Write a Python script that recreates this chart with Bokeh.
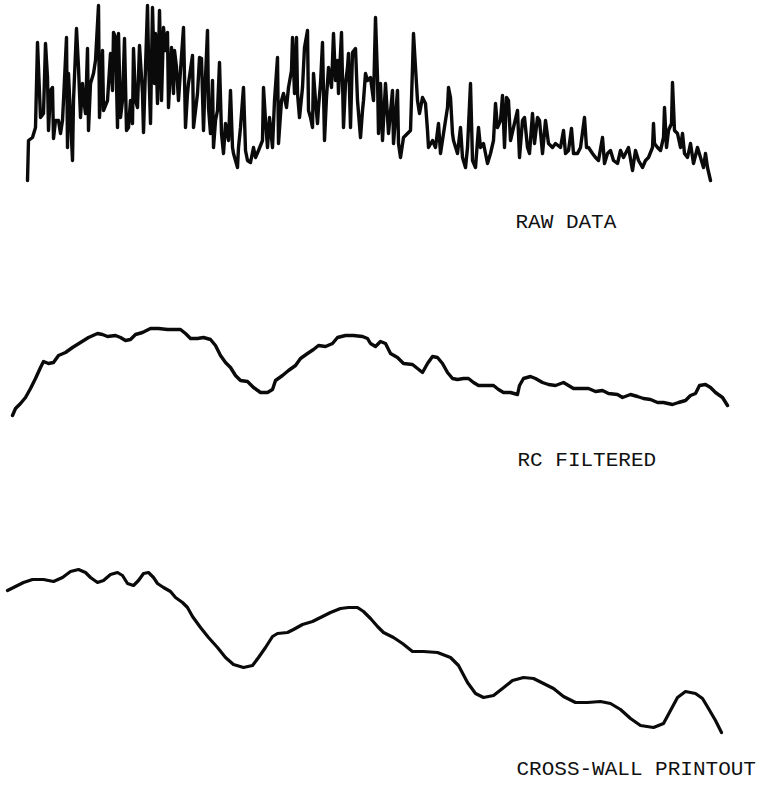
from bokeh.plotting import figure
from bokeh.models import Range1d, ColumnDataSource
from bokeh.core.properties import value
from bokeh.embed import file_html
from bokeh.resources import INLINE

# Trace readings (position along scan, vertical reading as on the page: larger = lower)
raw_pts = [(27,180),(28,140),(32,137),(35,127),(37,42),(40,117),(43,113),(45,43),(47,77),(48,130),(50,90),(52,87),(53,138),(55,120),(58,120),(60,133),(62,120),(63,100),(66,37),(67,147),(68,73),(70,117),(72,160),(73,100),(76,28),(78,67),(80,117),(82,83),(83,97),(85,113),(87,48),(88,130),(90,83),(93,73),(95,60),(98,5),(99,117),(102,50),(103,110),(107,100),(110,53),(112,90),(113,32),(115,37),(117,127),(118,33),(120,117),(122,100),(124,38),(126,130),(128,127),(130,100),(132,123),(133,48),(135,100),(137,107),(139,45),(142,93),(143,132),(145,67),(147,5),(148,57),(150,123),(152,7),(154,83),(155,33),(157,103),(159,10),(161,100),(163,27),(165,50),(167,32),(168,107),(171,47),(173,93),(174,50),(176,67),(178,100),(180,70),(183,27),(185,127),(187,93),(188,83),(192,55),(193,127),(197,93),(199,57),(201,58),(203,130),(204,100),(207,30),(208,107),(210,133),(212,80),(213,147),(215,120),(217,110),(219,62),(221,133),(223,153),(225,123),(228,140),(230,90),(232,147),(233,153),(237,167),(238,147),(240,127),(242,100),(243,87),(245,150),(247,160),(250,162),(253,147),(255,157),(258,150),(262,140),(263,87),(265,120),(267,147),(269,117),(272,147),(274,100),(277,57),(278,143),(281,100),(283,93),(286,107),(288,87),(291,70),(292,37),(294,93),(296,37),(297,93),(299,117),(302,87),(304,47),(307,30),(308,110),(310,117),(312,127),(313,73),(315,100),(317,123),(318,107),(320,83),(322,42),(324,140),(326,97),(328,67),(331,87),(333,33),(335,80),(337,60),(338,93),(341,32),(343,127),(345,83),(347,67),(348,53),(350,127),(352,52),(355,48),(357,100),(360,137),(362,110),(363,100),(365,73),(367,80),(370,77),(373,100),(375,17),(377,77),(378,133),(380,83),(382,140),(385,83),(388,133),(392,90),(393,143),(397,90),(398,143),(400,157),(403,137),(407,133),(410,130),(412,67),(413,33),(415,67),(417,100),(419,113),(422,97),(425,103),(427,130),(428,147),(432,140),(435,147),(438,123),(440,153),(443,133),(447,107),(448,87),(450,97),(452,133),(453,140),(457,153),(460,127),(462,157),(465,167),(467,147),(470,83),(472,160),(475,167),(478,127),(480,147),(483,143),(487,163),(490,153),(493,140),(495,103),(497,127),(500,120),(502,95),(504,147),(506,97),(508,100),(510,140),(513,127),(517,110),(519,157),(522,120),(524,117),(527,147),(529,153),(532,113),(534,143),(537,117),(539,120),(542,153),(545,120),(548,143),(552,147),(555,143),(560,147),(563,130),(565,153),(568,150),(571,128),(573,153),(577,153),(580,147),(584,117),(586,147),(588,147),(592,153),(595,157),(598,160),(602,137),(604,163),(607,153),(610,150),(613,160),(617,163),(620,150),(623,157),(628,147),(632,170),(635,150),(638,160),(642,167),(645,160),(648,157),(652,147),(653,123),(654,143),(657,147),(660,150),(663,137),(664,107),(666,147),(668,130),(671,123),(672,82),(674,130),(677,133),(680,147),(682,133),(684,153),(687,157),(690,143),(693,163),(697,147),(700,157),(703,167),(705,153),(707,167),(710,180)]

rc_pts = [(12,415),(15,408),(20,403),(25,397),(30,388),(35,378),(40,367),(43,361),(48,363),(53,362),(58,355),(65,352),(72,347),(80,342),(88,337),(97,333),(102,334),(107,336),(115,335),(120,337),(125,340),(130,339),(135,334),(142,332),(150,328),(158,328),(167,329),(173,329),(180,329),(185,333),(190,338),(197,338),(203,337),(210,339),(215,345),(220,355),(225,362),(230,367),(235,375),(240,380),(247,381),(253,387),(260,392),(267,392),(272,389),(275,380),(282,375),(288,370),(295,365),(300,358),(307,353),(313,349),(318,345),(325,346),(332,343),(337,337),(345,335),(353,335),(362,336),(367,338),(370,343),(375,346),(380,341),(385,343),(390,353),(397,357),(403,363),(412,364),(417,368),(422,372),(427,363),(432,356),(437,357),(442,363),(447,372),(452,378),(457,379),(463,378),(468,378),(473,382),(478,385),(485,385),(493,385),(498,389),(503,392),(510,392),(517,394),(519,385),(523,378),(530,376),(535,378),(542,382),(548,384),(555,385),(563,382),(568,385),(573,388),(580,388),(588,388),(595,391),(602,390),(608,393),(617,394),(622,397),(630,394),(637,396),(643,398),(650,399),(657,402),(663,402),(672,404),(678,402),(685,400),(690,395),(695,393),(699,385),(705,384),(710,387),(715,392),(722,397),(727,405)]

cw_pts = [(7,590),(13,587),(23,582),(32,579),(43,579),(53,581),(62,577),(70,571),(78,569),(85,572),(90,577),(97,582),(103,580),(110,574),(117,572),(122,575),(127,583),(133,585),(138,580),(143,573),(148,572),(153,577),(157,583),(163,587),(170,591),(175,597),(182,602),(187,607),(192,616),(200,627),(208,637),(217,647),(225,657),(233,664),(243,667),(252,665),(258,657),(265,647),(272,636),(277,633),(287,632),(293,629),(302,624),(312,621),(320,617),(330,612),(340,608),(348,607),(357,607),(363,611),(370,618),(377,626),(383,632),(393,637),(402,643),(412,651),(423,651),(437,652),(450,657),(458,665),(467,682),(475,693),(483,697),(493,695),(502,688),(512,680),(523,677),(533,678),(543,683),(553,688),(563,696),(575,702),(587,702),(600,701),(610,703),(620,709),(630,718),(640,725),(653,727),(663,723),(670,710),(677,697),(685,691),(695,693),(702,698),(708,708),(715,720),(721,732)]

label_text = ["RAW DATA", "RC FILTERED", "CROSS-WALL PRINTOUT"]
label_x = [515, 517, 516]
label_y = [233, 471, 780]

p = figure(width=765, height=780, output_backend="svg", toolbar_location=None,
           x_range=Range1d(0, 765), y_range=Range1d(780, 0),
           min_border=0, min_border_left=0, min_border_right=0,
           min_border_top=0, min_border_bottom=0)
p.xaxis.visible = False
p.yaxis.visible = False
p.grid.visible = False
p.outline_line_color = None
p.background_fill_color = "white"
p.border_fill_color = "white"

for pts, w in ((raw_pts, 3.4), (rc_pts, 3.4), (cw_pts, 3.2)):
    xs = [a for a, b in pts]
    ys = [b for a, b in pts]
    p.line(xs, ys, line_color="#0a0a0a", line_width=w, line_join="round", line_cap="round")

src = ColumnDataSource(dict(x=label_x, y=label_y, t=label_text))
p.text(x="x", y="y", text="t", source=src, text_font=value("Liberation Mono"),
       text_font_size="21px", text_color="#111111", text_baseline="bottom", text_align="left")

open("out.html", "w").write(file_html(p, INLINE))
